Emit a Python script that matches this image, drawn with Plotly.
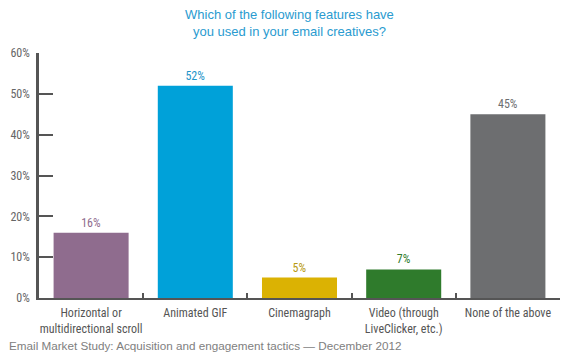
import plotly.graph_objects as go

categories = ["Horizontal or<br>multidirectional scroll", "Animated GIF", "Cinemagraph",
              "Video (through<br>LiveClicker, etc.)", "None of the above"]
values = [16, 52, 5, 7, 45]
bar_colors = ["#8F6C8E", "#00A1D9", "#DBB203", "#2F7B2C", "#6D6E70"]
label_colors = ["#8F6C8E", "#1E95C9", "#B89A10", "#2F7B2C", "#6D6E70"]
y_ticks = [0, 10, 20, 30, 40, 50, 60]
y_tick_labels = [f"{v}%" for v in y_ticks]

FONT = "Liberation Sans Narrow, Roboto Condensed, Liberation Sans, sans-serif"

fig = go.Figure(go.Bar(
    x=categories, y=values,
    marker=dict(color=bar_colors, line=dict(width=0)),
    width=0.72,
    text=[f"{v}%" for v in values],
    textposition="outside",
    textfont=dict(color=label_colors, size=12),
    cliponaxis=False,
    hoverinfo="skip",
))

fig.update_layout(
    width=570, height=352,
    margin=dict(l=39, r=10, t=53, b=54, autoexpand=False),
    paper_bgcolor="white", plot_bgcolor="white",
    font=dict(family=FONT, size=12, color="#555555"),
    showlegend=False,
)
fig.update_yaxes(
    range=[0, 60], tickvals=y_ticks, ticktext=y_tick_labels,
    showgrid=False, zeroline=False, automargin=False,
    showline=True, linecolor="#555555", linewidth=2.5,
    ticks="inside", ticklen=14, tickwidth=2, tickcolor="#555555",
    tickfont=dict(size=12, color="#666666"),
    ticklabelstandoff=4,
)
fig.update_xaxes(
    showgrid=False, showline=True, linecolor="#555555", linewidth=2,
    ticks="inside", tickson="boundaries", ticklen=5, tickwidth=2, tickcolor="#555555",
    tickangle=0, automargin=False, ticklabelstandoff=3,
    tickfont=dict(size=12, color="#555555"),
)

fig.add_annotation(
    text="Which of the following features have<br>you used in your email creatives?",
    xref="paper", yref="paper", x=0.48, y=1.0, yshift=48, xanchor="center", yanchor="top",
    showarrow=False, font=dict(family="Liberation Sans, sans-serif", size=13, color="#2A9BD0"), align="center",
)
fig.add_annotation(
    text="Email Market Study: Acquisition and engagement tactics \u2014 December 2012",
    xref="paper", yref="paper", x=0, xshift=-32, y=0, yshift=-39, xanchor="left", yanchor="top",
    showarrow=False, font=dict(family="Liberation Sans, sans-serif", size=11.7, color="#808080"),
)

fig.write_html("out.html")
